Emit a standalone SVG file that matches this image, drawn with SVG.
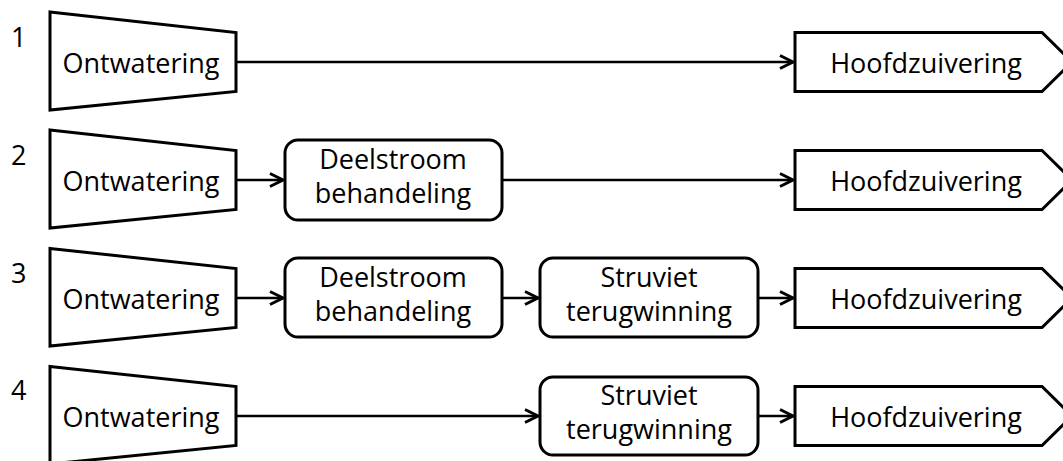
<svg xmlns="http://www.w3.org/2000/svg" width="1063" height="461" viewBox="0 0 1063 461">
  <style>
    .shape { fill: #ffffff; stroke: #000000; stroke-width: 3; stroke-linejoin: miter; }
    .conn { fill: none; stroke: #000000; stroke-width: 2.6; }
    text { font-family: "Open Sans", "Liberation Sans", sans-serif; font-size: 27px; fill: #000000; }
    .c { text-anchor: middle; }
  </style>
  <defs>
    <marker id="arr" markerUnits="userSpaceOnUse" markerWidth="20" markerHeight="20" viewBox="0 0 20 20" refX="15" refY="10" orient="auto">
      <path d="M2,3.5 L15,10 L2,16.5" fill="none" stroke="#000000" stroke-width="3" stroke-linejoin="miter"/>
    </marker>
  </defs>

  <!-- row numbers -->
  <g id="labels">
    <text x="11" y="47">1</text>
    <text x="11" y="165">2</text>
    <text x="11" y="283">3</text>
    <text x="11" y="400">4</text>
  </g>

  <!-- Row 1 -->
  <g id="ontwatering1">
    <polygon class="shape" points="50,12 236,32.5 236,91.5 50,110"/>
    <text class="c" x="141" y="73">Ontwatering</text>
  </g>
  <g id="hoofd1">
    <polygon class="shape" points="795,32.5 1042,32.5 1072,62 1042,91.5 795,91.5"/>
    <text class="c" x="926" y="73">Hoofdzuivering</text>
  </g>

  <!-- Row 2 -->
  <g id="ontwatering2">
    <polygon class="shape" points="50,130 236,150.5 236,209.5 50,228"/>
    <text class="c" x="141" y="191">Ontwatering</text>
  </g>
  <g id="deelstroom2">
    <rect class="shape" x="285" y="140" width="217" height="80" rx="13" ry="13"/>
    <text class="c" x="393" y="169">Deelstroom</text>
    <text class="c" x="393" y="203">behandeling</text>
  </g>
  <g id="hoofd2">
    <polygon class="shape" points="795,150.5 1042,150.5 1072,180 1042,209.5 795,209.5"/>
    <text class="c" x="926" y="191">Hoofdzuivering</text>
  </g>

  <!-- Row 3 -->
  <g id="ontwatering3">
    <polygon class="shape" points="50,248.5 236,268.5 236,327.5 50,346"/>
    <text class="c" x="141" y="309">Ontwatering</text>
  </g>
  <g id="deelstroom3">
    <rect class="shape" x="285" y="258" width="217" height="79" rx="13" ry="13"/>
    <text class="c" x="393" y="287">Deelstroom</text>
    <text class="c" x="393" y="321">behandeling</text>
  </g>
  <g id="struviet3">
    <rect class="shape" x="540" y="258" width="218" height="79" rx="13" ry="13"/>
    <text class="c" x="649" y="287">Struviet</text>
    <text class="c" x="649" y="321">terugwinning</text>
  </g>
  <g id="hoofd3">
    <polygon class="shape" points="795,268.5 1042,268.5 1072,298 1042,327.5 795,327.5"/>
    <text class="c" x="926" y="309">Hoofdzuivering</text>
  </g>

  <!-- Row 4 -->
  <g id="ontwatering4">
    <polygon class="shape" points="50,366.5 236,386.5 236,445.5 50,464"/>
    <text class="c" x="141" y="427">Ontwatering</text>
  </g>
  <g id="struviet4">
    <rect class="shape" x="540" y="377" width="218" height="78" rx="13" ry="13"/>
    <text class="c" x="649" y="405">Struviet</text>
    <text class="c" x="649" y="439">terugwinning</text>
  </g>
  <g id="hoofd4">
    <polygon class="shape" points="795,386.5 1042,386.5 1072,416 1042,445.5 795,445.5"/>
    <text class="c" x="926" y="427">Hoofdzuivering</text>
  </g>

  <!-- connectors -->
  <g id="connectors">
    <line class="conn" x1="236" y1="62" x2="793" y2="62" marker-end="url(#arr)"/>
    <line class="conn" x1="236" y1="180" x2="283" y2="180" marker-end="url(#arr)"/>
    <line class="conn" x1="502" y1="180" x2="793" y2="180" marker-end="url(#arr)"/>
    <line class="conn" x1="236" y1="298" x2="283" y2="298" marker-end="url(#arr)"/>
    <line class="conn" x1="502" y1="298" x2="538" y2="298" marker-end="url(#arr)"/>
    <line class="conn" x1="758" y1="298" x2="793" y2="298" marker-end="url(#arr)"/>
    <line class="conn" x1="236" y1="416" x2="538" y2="416" marker-end="url(#arr)"/>
    <line class="conn" x1="758" y1="416" x2="793" y2="416" marker-end="url(#arr)"/>
  </g>
</svg>
